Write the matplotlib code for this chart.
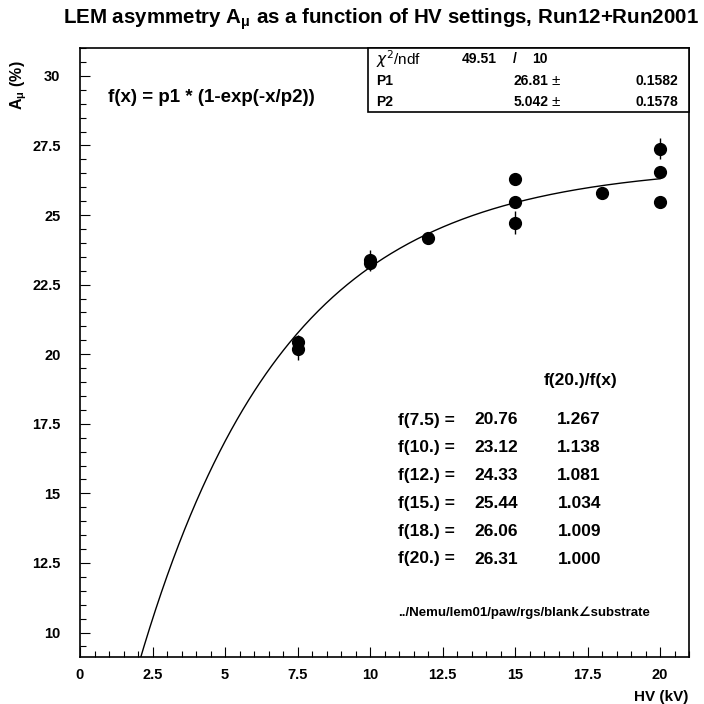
import numpy as np
import matplotlib
matplotlib.use('Agg')
import matplotlib.pyplot as plt
from matplotlib.patches import Rectangle
from matplotlib.ticker import MultipleLocator

plt.rcParams['font.family'] = ['Liberation Sans', 'DejaVu Sans']
plt.rcParams['mathtext.fontset'] = 'dejavusans'

# Measured asymmetry points (HV in kV, A_mu in %)
hv = [7.5, 7.5, 10.0, 10.0, 12.0, 15.0, 15.0, 15.0, 18.0, 20.0, 20.0, 20.0]
asym = [20.45, 20.2, 23.38, 23.28, 24.18, 26.3, 25.48, 24.72, 25.8, 27.38, 26.56, 25.48]
asym_err = [0.25, 0.4, 0.35, 0.3, 0.12, 0.15, 0.15, 0.42, 0.12, 0.38, 0.15, 0.12]

# Fit result f(x) = p1 * (1 - exp(-x/p2))
p1, p1_err = 26.81, 0.1582
p2, p2_err = 5.042, 0.1578
chi2, ndf = 49.51, 10

# Table of fit values
table_x = ['7.5', '10.', '12.', '15.', '18.', '20.']
table_f = ['20.76', '23.12', '24.33', '25.44', '26.06', '26.31']
table_ratio = ['1.267', '1.138', '1.081', '1.034', '1.009', '1.000']

W = H = 704
fig = plt.figure(figsize=(7.04, 7.04), dpi=100)


def px(x, y):
    """pixel position (from top-left) -> figure fraction"""
    return x / W, 1 - y / H


ax_l, ax_r, ax_t, ax_b = 80, 689, 48, 657
ax = fig.add_axes([ax_l / W, 1 - ax_b / H, (ax_r - ax_l) / W, (ax_b - ax_t) / H])

# fit curve
xs = np.linspace(0, 20, 400)
ax.plot(xs, p1 * (1 - np.exp(-xs / p2)), color='black', lw=1.0)

# data
ax.errorbar(hv, asym, yerr=asym_err, fmt='o', color='black', ms=8.5,
            elinewidth=1.0, capsize=0)

ax.set_xlim(0, 21.0)
ax.set_ylim(9.12, 31.0)
ax.xaxis.set_major_locator(MultipleLocator(2.5))
ax.xaxis.set_minor_locator(MultipleLocator(0.5))
ax.yaxis.set_major_locator(MultipleLocator(2.5))
ax.yaxis.set_minor_locator(MultipleLocator(0.5))
ax.xaxis.set_major_formatter(plt.FuncFormatter(lambda v, p: f'{v:g}'))
ax.yaxis.set_major_formatter(plt.FuncFormatter(lambda v, p: f'{v:g}'))
ax.tick_params(which='both', direction='in', top=False, right=False,
               labelsize=10.5, width=0.8)
ax.tick_params(which='major', length=7)
ax.tick_params(which='minor', length=4)
ax.tick_params(axis='y', which='major', pad=14)
ax.tick_params(axis='x', which='major', pad=8)
for lab in ax.get_xticklabels() + ax.get_yticklabels():
    lab.set_fontweight('bold')
for s in ax.spines.values():
    s.set_linewidth(1.2)

# title and axis labels
fig.text(*px(381, 19), r'LEM asymmetry A$_\mathregular{μ}$ as a function of HV settings, Run12+Run2001',
         ha='center', va='center', fontsize=14.8, fontweight='bold')
fig.text(*px(19, 85), r'A$_\mathregular{μ}$ (%)', rotation=90, ha='center', va='center',
         fontsize=11.5, fontweight='bold')
fig.text(*px(688, 697), 'HV (kV)', ha='right', va='center', fontsize=11,
         fontweight='bold')

# stats box
bx0 = (368 - ax_l) / (ax_r - ax_l)
by0 = (ax_b - 112) / (ax_b - ax_t)
ax.add_patch(Rectangle((bx0, by0), 1 - bx0, 1 - by0, transform=ax.transAxes,
                       facecolor='white', edgecolor='black', lw=1.2,
                       clip_on=False, zorder=5))
fig.text(*px(376, 59), r'$\chi^2$/ndf', ha='left', va='center', fontsize=11,
         fontweight='normal', zorder=6)
fig.text(*px(497, 59), f'{chi2:.2f}', ha='right', va='center', fontsize=10,
         fontweight='bold', zorder=6)
fig.text(*px(515, 59), '/', ha='center', va='center', fontsize=10,
         fontweight='bold', zorder=6)
fig.text(*px(548, 59), f'{ndf}', ha='right', va='center', fontsize=10,
         fontweight='bold', zorder=6)
for yy, name, val, err in [(81, 'P1', p1, p1_err), (102, 'P2', p2, p2_err)]:
    fig.text(*px(376, yy), name, ha='left', va='center', fontsize=10,
             fontweight='bold', zorder=6)
    fig.text(*px(548, yy), f'{val:.4g}', ha='right', va='center', fontsize=10,
             fontweight='bold', zorder=6)
    fig.text(*px(551, yy), '\u00b1', ha='left', va='center', fontsize=11,
             fontweight='normal', zorder=6)
    fig.text(*px(678, yy), f'{err:.4f}', ha='right', va='center', fontsize=10,
             fontweight='bold', zorder=6)

# fit formula
fig.text(*px(108, 98), 'f(x) = p1 * (1-exp(-x/p2))', ha='left', va='center',
         fontsize=13.5, fontweight='bold')

# table of f values and ratios
fig.text(*px(581, 381), 'f(20.)/f(x)', ha='center', va='center', fontsize=12.5,
         fontweight='bold')
for i, (xv, fv, rv) in enumerate(zip(table_x, table_f, table_ratio)):
    yy = 420 + i * 27.8
    fig.text(*px(398, yy), f'f({xv}) =', ha='left', va='center', fontsize=12.5,
             fontweight='bold')
    fig.text(*px(518, yy), fv, ha='right', va='center', fontsize=12.5,
             fontweight='bold')
    fig.text(*px(601, yy), rv, ha='right', va='center', fontsize=12.5,
             fontweight='bold')

fig.text(*px(398, 613), '../Nemu/lem01/paw/rgs/blank\u2220substrate', ha='left',
         va='center', fontsize=9.5, fontweight='bold')

fig.savefig('out.png', dpi=100)
